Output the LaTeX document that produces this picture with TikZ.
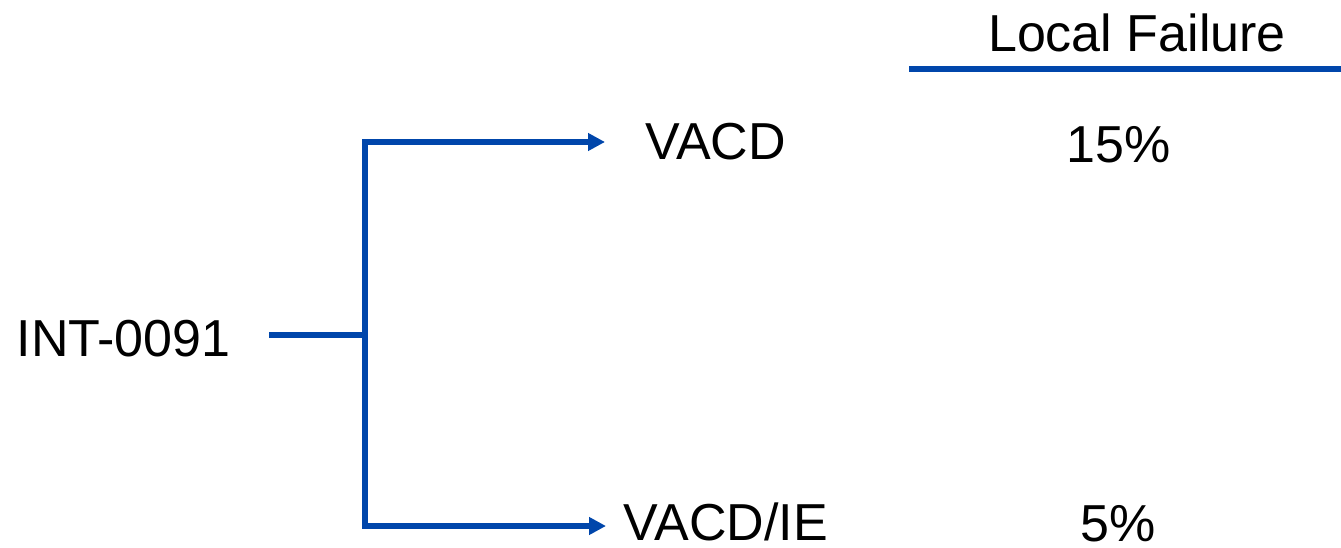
\documentclass[tikz,border=0pt]{standalone}
\usepackage{fontspec}
\setmainfont{Liberation Sans}
\usetikzlibrary{arrows.meta}
\definecolor{lineblue}{RGB}{0,70,171}
\tikzset{
  lbl/.style={anchor=base, inner sep=0pt, font=\fontsize{52}{60}\selectfont, text=black},
  conn/.style={draw=lineblue, line width=6pt},
  arr/.style={conn, -{Triangle[length=17pt,width=17pt]}}
}
\begin{document}
\begin{tikzpicture}[x=1pt,y=-1pt]
\useasboundingbox (0,0) rectangle (1341,548);
\node[lbl] (hdr) at (1137,52) {Local Failure};
\node[lbl] (int) at (123.5,356) {INT-0091};
\node[lbl] (vacd) at (715.5,160) {VACD};
\node[lbl] (vie) at (726,540) {VACD/IE};
\node[lbl] (p15) at (1118.5,163) {15\%};
\node[lbl] (p5) at (1118,541) {5\%};
\coordinate (s) at (269,335);
\coordinate (j) at (365,335);
\coordinate (jt) at (365,142);
\coordinate (jb) at (365,526);
\coordinate (et) at (605,142);
\coordinate (eb) at (606,526);
\coordinate (hl) at (909,69);
\coordinate (hr) at (1341,69);
\draw[conn] (hl) -- (hr);
\draw[conn] (s) -- (j);
\draw[conn, line cap=rect] (jt) -- (jb);
\draw[arr] (jt) -- (et);
\draw[arr] (jb) -- (eb);
\end{tikzpicture}
\end{document}
